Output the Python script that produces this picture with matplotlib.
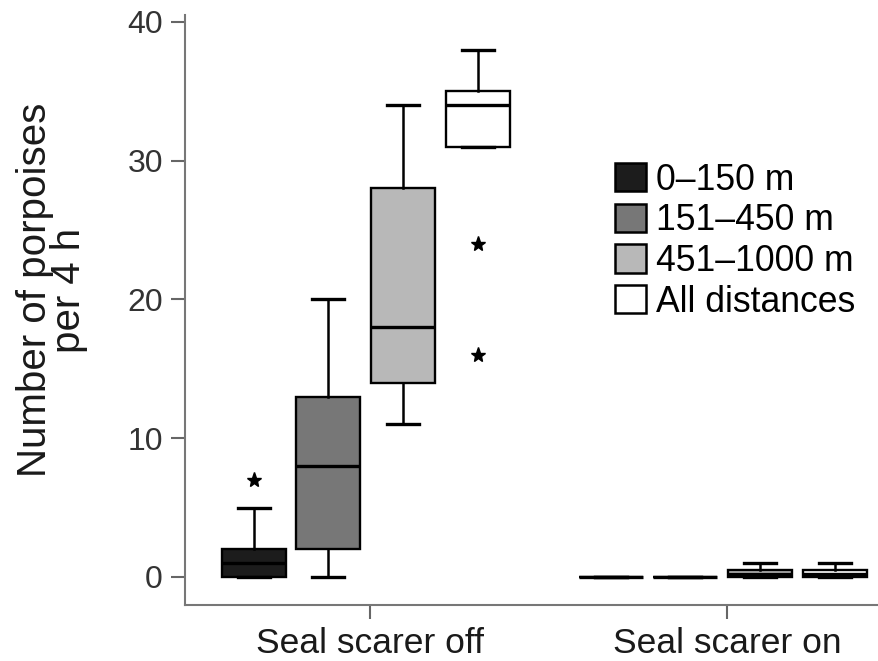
import matplotlib
matplotlib.use("Agg")
import matplotlib.pyplot as plt
from matplotlib.patches import Patch

plt.rcParams['font.family'] = ['Liberation Sans', 'DejaVu Sans']

groups = ["Seal scarer off", "Seal scarer on"]
series = ["0\u2013150 m", "151\u2013450 m", "451\u20131000 m", "All distances"]
colors = ["#1c1c1c", "#777777", "#b8b8b8", "#ffffff"]

# five-number summaries per group, per series: [whislo, q1, med, q3, whishi]
off_stats = [
    [0, 0, 1, 2, 5],
    [0, 2, 8, 13, 20],
    [11, 14, 18, 28, 34],
    [31, 31, 34, 35, 38],
]
on_stats = [
    [0, 0, 0, 0, 0],
    [0, 0, 0, 0, 0],
    [0, 0, 0.25, 0.5, 1],
    [0, 0, 0.25, 0.5, 1],
]
off_outliers = [[7], [], [], [16, 24]]
on_outliers = [[], [], [], []]

yticks = [0, 10, 20, 30, 40]

fig = plt.figure(figsize=(8.79, 6.61), dpi=100)
ax = fig.add_axes([0.2105, 0.0847, 0.7895, 0.8926])

offsets = [-1.5, -0.5, 0.5, 1.5]
spacing = 0.209
width = 0.179
shift = -0.012

for gi, (stats_g, outl_g) in enumerate([(off_stats, off_outliers), (on_stats, on_outliers)]):
    center = gi + 1 + shift
    for si in range(4):
        lo, q1, med, q3, hi = stats_g[si]
        st = dict(whislo=lo, q1=q1, med=med, q3=q3, whishi=hi, fliers=outl_g[si])
        pos = center + offsets[si] * spacing
        ax.bxp([st], positions=[pos], widths=width, patch_artist=True,
               showfliers=True, manage_ticks=False,
               boxprops=dict(facecolor=colors[si], edgecolor="black", linewidth=1.7),
               medianprops=dict(color="black", linewidth=2.4),
               whiskerprops=dict(color="black", linewidth=1.8),
               capprops=dict(color="black", linewidth=2.4),
               flierprops=dict(marker="*", markerfacecolor="black",
                               markeredgecolor="black", markersize=11, linestyle="none"))

ax.set_xlim(0.482, 2.426)
ax.set_ylim(-2.02, 40.5)
ax.set_xticks([1, 2])
ax.set_xticklabels(groups, fontsize=25.5, color="#1a1a1a")
ax.set_yticks(yticks)
ax.set_yticklabels([str(t) for t in yticks], fontsize=23, color="#333333")
ax.tick_params(axis="both", direction="out", length=10, width=1.5, colors="#666666")
ax.tick_params(axis="x", labelcolor="#1a1a1a", pad=6)
ax.tick_params(axis="y", labelcolor="#333333", pad=6)
for s in ["top", "right"]:
    ax.spines[s].set_visible(False)
for s in ["left", "bottom"]:
    ax.spines[s].set_color("#777777")
    ax.spines[s].set_linewidth(1.5)

ax.set_ylabel("Number of porpoises\nper 4 h", fontsize=29, color="#1a1a1a",
              linespacing=0.85)
ax.yaxis.set_label_coords(-0.14, 0.534)

handles = [Patch(facecolor=c, edgecolor="black", linewidth=1.8) for c in colors]
leg = ax.legend(handles, series, loc="upper left", bbox_to_anchor=(0.62, 0.75),
                frameon=False, fontsize=25.6, handlelength=0.85, handleheight=0.85,
                handletextpad=0.3, labelspacing=0.16, borderaxespad=0, borderpad=0)

fig.savefig("out.png", dpi=100)
